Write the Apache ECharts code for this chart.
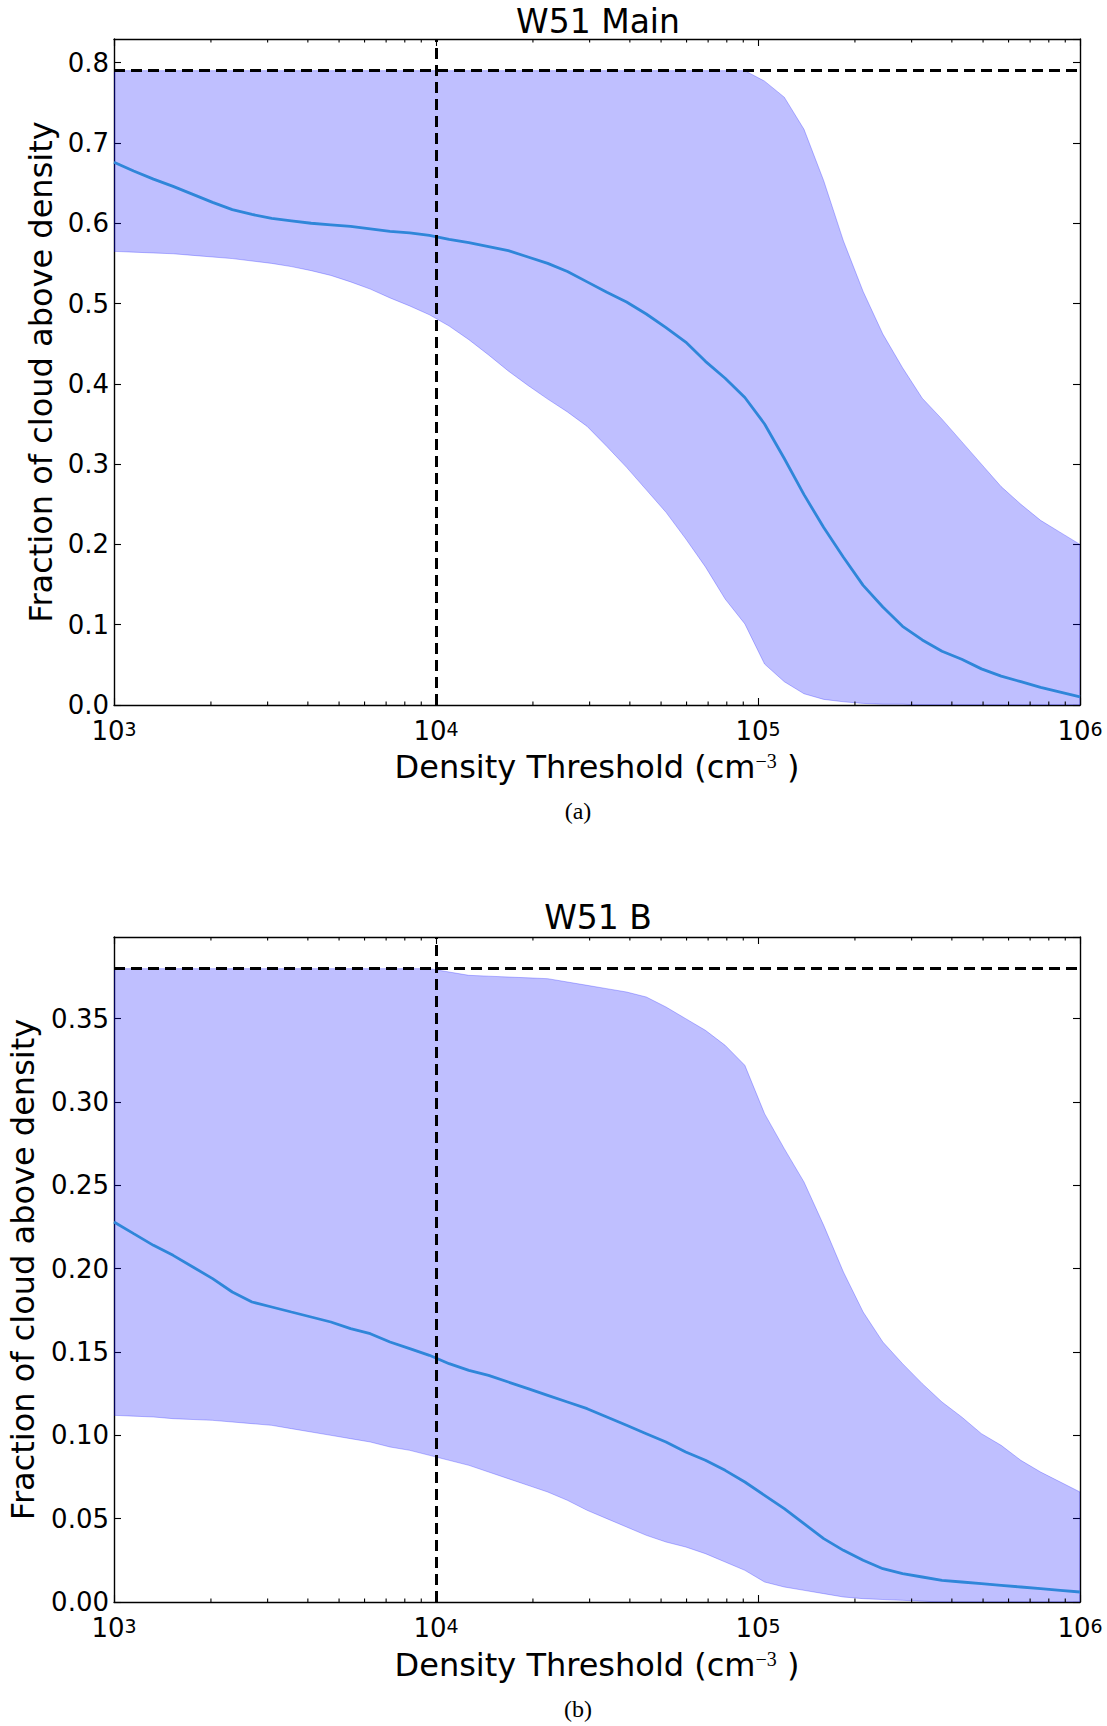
<!DOCTYPE html>
<html>
<head>
<meta charset="utf-8">
<script src="https://cdn.jsdelivr.net/npm/echarts@6/dist/echarts.min.js"></script>
<style>
  html, body { margin: 0; padding: 0; background: #ffffff; }
  #chart { width: 1107px; height: 1726px; }
</style>
</head>
<body>
<div id="chart"></div>
<script>
// Density thresholds (cm^-3), 50 log-spaced samples from 1e3 to 1e6
const densities = [1000, 1151, 1326, 1526, 1758, 2024, 2330, 2683, 3089, 3556,
  4095, 4715, 5429, 6251, 7197, 8286, 9541, 10985, 12649, 14563,
  16768, 19307, 22230, 25595, 29471, 33932, 39069, 44984, 51795, 59636,
  68665, 79060, 91030, 104811, 120679, 138950, 159986, 184207, 212095, 244205,
  281177, 323746, 372759, 429193, 494171, 568987, 655129, 754312, 868511, 1000000];

// W51 Main: fraction of cloud above each density threshold
const mainMedian = [0.676, 0.665, 0.655, 0.646, 0.636, 0.626, 0.617, 0.611, 0.606, 0.603,
  0.600, 0.598, 0.596, 0.593, 0.590, 0.588, 0.585, 0.580, 0.576, 0.571,
  0.566, 0.558, 0.550, 0.540, 0.527, 0.514, 0.502, 0.487, 0.470, 0.452,
  0.428, 0.407, 0.383, 0.350, 0.307, 0.262, 0.221, 0.184, 0.149, 0.122,
  0.098, 0.081, 0.067, 0.057, 0.045, 0.036, 0.029, 0.022, 0.016, 0.010];
const mainLower = [0.565, 0.564, 0.563, 0.562, 0.560, 0.558, 0.556, 0.553, 0.550, 0.546,
  0.541, 0.535, 0.527, 0.518, 0.507, 0.497, 0.486, 0.472, 0.455, 0.436,
  0.416, 0.398, 0.381, 0.365, 0.347, 0.322, 0.296, 0.268, 0.240, 0.207,
  0.172, 0.132, 0.101, 0.051, 0.029, 0.014, 0.007, 0.004, 0.002, 0.001,
  0.001, 0, 0, 0, 0, 0, 0, 0, 0, 0];
const mainUpper = [0.79, 0.79, 0.79, 0.79, 0.79, 0.79, 0.79, 0.79, 0.79, 0.79,
  0.79, 0.79, 0.79, 0.79, 0.79, 0.79, 0.79, 0.79, 0.79, 0.79,
  0.79, 0.79, 0.79, 0.79, 0.79, 0.79, 0.79, 0.79, 0.79, 0.79,
  0.79, 0.79, 0.79, 0.777, 0.757, 0.717, 0.653, 0.578, 0.515, 0.462,
  0.420, 0.382, 0.356, 0.328, 0.300, 0.272, 0.250, 0.230, 0.215, 0.200];
const mainLimit = 0.79;

// W51 B
const bMedian = [0.228, 0.221, 0.214, 0.208, 0.201, 0.194, 0.186, 0.180, 0.177, 0.174,
  0.171, 0.168, 0.164, 0.161, 0.156, 0.152, 0.148, 0.143, 0.139, 0.136,
  0.132, 0.128, 0.124, 0.120, 0.116, 0.111, 0.106, 0.101, 0.096, 0.090,
  0.085, 0.079, 0.072, 0.064, 0.056, 0.047, 0.038, 0.031, 0.025, 0.020,
  0.017, 0.015, 0.013, 0.012, 0.011, 0.010, 0.009, 0.008, 0.007, 0.006];
const bLower = [0.112, 0.1115, 0.111, 0.110, 0.1095, 0.109, 0.108, 0.107, 0.106, 0.104,
  0.102, 0.100, 0.098, 0.096, 0.093, 0.091, 0.088, 0.085, 0.082, 0.078,
  0.074, 0.070, 0.066, 0.061, 0.055, 0.050, 0.045, 0.040, 0.036, 0.033,
  0.029, 0.024, 0.019, 0.012, 0.009, 0.007, 0.005, 0.003, 0.002, 0.0015,
  0.001, 0.0005, 0, 0, 0, 0, 0, 0, 0, 0];
const bUpper = [0.38, 0.38, 0.38, 0.38, 0.38, 0.38, 0.38, 0.38, 0.38, 0.38,
  0.38, 0.38, 0.38, 0.38, 0.38, 0.38, 0.38, 0.378, 0.376, 0.3755,
  0.375, 0.3745, 0.374, 0.372, 0.370, 0.368, 0.366, 0.363, 0.357, 0.350,
  0.343, 0.334, 0.322, 0.293, 0.272, 0.252, 0.226, 0.198, 0.174, 0.156,
  0.143, 0.131, 0.120, 0.111, 0.101, 0.094, 0.085, 0.078, 0.072, 0.066];
const bLimit = 0.38;

// Vertical reference density
const thresholdDensity = 10000;

// Minor log ticks (2..9 within each decade)
const minorDecades = [1e3, 1e4, 1e5];
const minorMultipliers = [2, 3, 4, 5, 6, 7, 8, 9];

const SANS = 'DejaVu Sans';
const SERIF = 'Liberation Serif';
const FRAME = { color: '#000000', width: 1.4 };

const panels = [
  { title: 'W51 Main', caption: '(a)', top: 39, height: 666, yMax: 0.8295, interval: 0.1, digits: 1,
    median: mainMedian, lower: mainLower, upper: mainUpper, limit: mainLimit,
    titleY: 21, xNameY: 767, yNameX: 41, captionY: 811 },
  { title: 'W51 B', caption: '(b)', top: 937, height: 665, yMax: 0.399, interval: 0.05, digits: 2,
    median: bMedian, lower: bLower, upper: bUpper, limit: bLimit,
    titleY: 917, xNameY: 1665, yNameX: 23, captionY: 1709 }
];
const GRID_LEFT = 114, GRID_WIDTH = 966;

const minorTickValues = [];
minorDecades.forEach(d => minorMultipliers.forEach(k => minorTickValues.push(k * d)));

const grid = [], xAxis = [], yAxis = [], series = [], graphic = [];

panels.forEach((p, g) => {
  grid.push({ left: GRID_LEFT, top: p.top, width: GRID_WIDTH, height: p.height, containLabel: false });

  const xBase = {
    gridIndex: g, type: 'log', logBase: 10, min: 1000, max: 1000000,
    axisLine: { show: true, onZero: false, lineStyle: FRAME },
    axisTick: { show: true, inside: true, length: 7, lineStyle: { color: '#000', width: 1.1 } },
    splitLine: { show: false }, minorTick: { show: false }
  };
  xAxis.push(Object.assign({}, xBase, {
    position: 'bottom',
    axisLabel: {
      show: true, margin: 14, showMinLabel: true, showMaxLabel: true,
      formatter: v => '{b|10}{s|' + Math.round(Math.log10(v)) + '}',
      rich: {
        b: { fontFamily: SANS, fontSize: 26, lineHeight: 24, color: '#000' },
        s: { fontFamily: SANS, fontSize: 19, lineHeight: 18, color: '#000', verticalAlign: 'top', padding: [0, 0, 4, 0] }
      }
    }
  }));
  xAxis.push(Object.assign({}, xBase, { position: 'top', axisLabel: { show: false } }));

  const yBase = {
    gridIndex: g, type: 'value', min: 0, max: p.yMax, interval: p.interval,
    axisLine: { show: true, onZero: false, lineStyle: FRAME },
    axisTick: { show: true, inside: true, length: 7, lineStyle: { color: '#000', width: 1.1 } },
    splitLine: { show: false }
  };
  yAxis.push(Object.assign({}, yBase, {
    position: 'left',
    axisLabel: {
      show: true, margin: 5, showMaxLabel: false, showMinLabel: true,
      fontFamily: SANS, fontSize: 26, lineHeight: 24, color: '#000',
      formatter: v => v.toFixed(p.digits)
    }
  }));
  yAxis.push(Object.assign({}, yBase, { position: 'right', axisLabel: { show: false } }));

  const xi = g * 2, yi = g * 2;

  // Shaded range between lower and upper fractions
  series.push({
    type: 'custom', xAxisIndex: xi, yAxisIndex: yi, silent: true, clip: true, z: 1,
    data: densities.map((d, i) => [d, p.lower[i], p.upper[i]]),
    encode: { x: 0, y: [1, 2] },
    renderItem: (params, api) => {
      if (params.dataIndex !== 0) return null;
      const pts = [];
      for (let i = 0; i < densities.length; i++) pts.push(api.coord([densities[i], p.upper[i]]));
      for (let i = densities.length - 1; i >= 0; i--) pts.push(api.coord([densities[i], p.lower[i]]));
      return {
        type: 'polygon', shape: { points: pts },
        style: { fill: 'rgba(0,0,255,0.25)', stroke: 'rgba(0,0,255,0.25)', lineWidth: 1 }
      };
    }
  });

  // Median curve plus dashed reference lines
  series.push({
    type: 'line', xAxisIndex: xi, yAxisIndex: yi, z: 3,
    data: densities.map((d, i) => [d, p.median[i]]),
    showSymbol: false, symbol: 'none', smooth: false,
    lineStyle: { color: '#2f86d9', width: 2.8 },
    emphasis: { disabled: true },
    markLine: {
      silent: true, symbol: ['none', 'none'], label: { show: false }, animation: false,
      lineStyle: { color: '#000', width: 3, type: [11, 6] },
      emphasis: { disabled: true },
      data: [{ yAxis: p.limit }, { xAxis: thresholdDensity }]
    }
  });

  // Minor ticks on bottom and top log axes
  series.push({
    type: 'custom', xAxisIndex: xi, yAxisIndex: yi, silent: true, clip: false, z: 4,
    data: minorTickValues.map(v => [v, 0]),
    encode: { x: 0, y: 1 },
    renderItem: (params, api) => {
      const v = api.value(0);
      const b = api.coord([v, 0]);
      const t = api.coord([v, p.yMax]);
      const st = { stroke: '#000', lineWidth: 1.1 };
      return {
        type: 'group', children: [
          { type: 'line', shape: { x1: b[0], y1: b[1], x2: b[0], y2: b[1] - 3.5 }, style: st },
          { type: 'line', shape: { x1: t[0], y1: t[1], x2: t[0], y2: t[1] + 3.5 }, style: st }
        ]
      };
    }
  });

  const cx = GRID_LEFT + GRID_WIDTH / 2;
  graphic.push({
    type: 'text', x: cx + 1, y: p.titleY,
    style: { text: p.title, fontFamily: SANS, fontSize: 33, fill: '#000', textAlign: 'center', textVerticalAlign: 'middle' }
  });
  graphic.push({
    type: 'text', x: cx, y: p.xNameY,
    style: {
      text: '{m|Density Threshold (cm}{s|\u22123}{m| )}',
      textAlign: 'center', textVerticalAlign: 'middle',
      rich: {
        m: { fontFamily: SANS, fontSize: 32, fill: '#000' },
        s: { fontFamily: SERIF, fontSize: 20, fill: '#000', verticalAlign: 'top' }
      }
    }
  });
  graphic.push({
    type: 'text', x: p.yNameX, y: p.top + p.height / 2, rotation: Math.PI / 2,
    style: { text: 'Fraction of cloud above density', fontFamily: SANS, fontSize: 32, fill: '#000', textAlign: 'center', textVerticalAlign: 'middle' }
  });
  graphic.push({
    type: 'text', x: 578, y: p.captionY,
    style: { text: p.caption, fontFamily: SERIF, fontSize: 24, fill: '#000', textAlign: 'center', textVerticalAlign: 'middle' }
  });
});

const chart = echarts.init(document.getElementById('chart'), null, { renderer: 'svg', width: 1107, height: 1726 });
chart.setOption({
  animation: false,
  backgroundColor: '#ffffff',
  textStyle: { fontFamily: SANS },
  grid, xAxis, yAxis, series, graphic
});
</script>
</body>
</html>
